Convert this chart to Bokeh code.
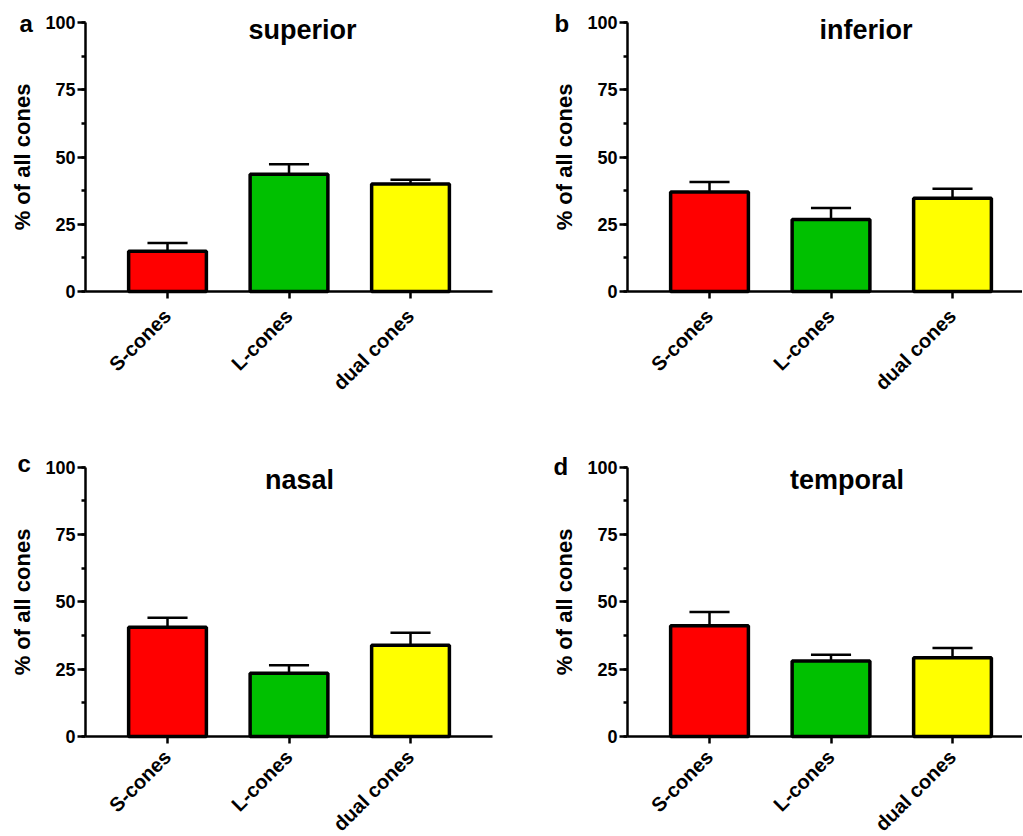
import math
from bokeh.plotting import figure
from bokeh.models import Range1d, FixedTicker, SingleIntervalTicker, Label
from bokeh.layouts import column, row
from bokeh.embed import file_html
from bokeh.resources import INLINE

categories = ["S-cones", "L-cones", "dual cones"]
colors = ["#ff0000", "#00c000", "#ffff00"]

panel_letters = ["a", "b", "c", "d"]
panel_titles = ["superior", "inferior", "nasal", "temporal"]

superior_mean = [15.0, 43.6, 40.0]
superior_sem = [3.0, 3.7, 1.5]
inferior_mean = [37.0, 26.8, 34.7]
inferior_sem = [3.7, 4.2, 3.5]
nasal_mean = [40.6, 23.5, 33.9]
nasal_sem = [3.5, 3.0, 4.6]
temporal_mean = [41.1, 28.0, 29.2]
temporal_sem = [5.1, 2.4, 3.7]

FONT = "Liberation Sans"
X_LEFT = -0.175      # data x where the y axis sits
PX_PER_CAT = 121.5   # pixels per category step


def make_panel(letter, title, means, sems, width, height, axis_px_x, y100_px, y0_px,
               x_axis_end, label_standoff, title_x, title_y, letter_x, letter_y):
    xs = [i + 0.5 for i in range(len(categories))]
    x_start = X_LEFT - axis_px_x / PX_PER_CAT
    x_end = x_start + width / PX_PER_CAT
    py = (y0_px - y100_px) / 100.0
    y_top = 100 + y100_px / py
    y_bot = -(height - y0_px) / py
    p = figure(width=width, height=height, output_backend="svg", toolbar_location=None,
               x_range=Range1d(x_start, x_end), y_range=Range1d(y_bot, y_top),
               min_border_left=0, min_border_right=0, min_border_top=0, min_border_bottom=0)
    p.xgrid.visible = False
    p.ygrid.visible = False
    p.outline_line_color = None
    p.background_fill_color = "white"
    p.border_fill_color = "white"

    tops = [m + s for m, s in zip(means, sems)]
    p.segment(x0=xs, y0=means, x1=xs, y1=tops, line_color="black", line_width=2.5)
    p.segment(x0=[x - 0.165 for x in xs], y0=tops, x1=[x + 0.165 for x in xs], y1=tops,
              line_color="black", line_width=2.5)
    p.vbar(x=xs, top=means, bottom=0, width=0.64, fill_color=colors,
           line_color="black", line_width=3.5)

    xa = p.xaxis[0]
    xa.fixed_location = 0
    xa.bounds = (X_LEFT, min(x_axis_end, x_end))
    xa.ticker = FixedTicker(ticks=xs)
    xa.major_label_overrides = {x: c for x, c in zip(xs, categories)}
    xa.major_label_orientation = math.pi / 4
    xa.major_label_standoff = label_standoff
    xa.major_tick_out = 7
    xa.major_tick_in = 0
    xa.minor_tick_line_color = None
    xa.major_label_text_font_size = "20px"

    ya = p.yaxis[0]
    ya.fixed_location = X_LEFT
    ya.bounds = (0, 100)
    ya.ticker = SingleIntervalTicker(interval=25, num_minor_ticks=2)
    ya.major_tick_out = 8
    ya.major_tick_in = 0
    ya.minor_tick_out = 4
    ya.minor_tick_in = 0
    ya.major_label_standoff = 2
    ya.major_label_text_font_size = "18px"
    ya.axis_label = "% of all cones"
    ya.axis_label_text_font = FONT
    ya.axis_label_text_font_style = "bold"
    ya.axis_label_text_font_size = "22px"
    ya.axis_label_text_color = "black"
    ya.axis_label_standoff = 7

    for ax in (xa, ya):
        ax.axis_line_width = 2.5
        ax.axis_line_color = "black"
        ax.major_tick_line_width = 2.5
        ax.major_tick_line_color = "black"
        ax.minor_tick_line_width = 2.5
        ax.major_label_text_font = FONT
        ax.major_label_text_font_style = "bold"
        ax.major_label_text_color = "black"

    p.add_layout(Label(x=title_x, y=title_y, text=title, text_font=FONT,
                       text_font_style="bold", text_font_size="27px",
                       text_align="center", text_baseline="alphabetic", text_color="black"))
    p.add_layout(Label(x=letter_x, y=letter_y, text=letter, text_font=FONT,
                       text_font_style="bold", text_font_size="24px",
                       text_align="left", text_baseline="alphabetic", text_color="black"))
    return p


pa = make_panel(panel_letters[0], panel_titles[0], superior_mean, superior_sem,
                550, 450, 85, 22, 291, 3.175, 14, 1.611, 97.2, -0.718, 99.8)
pb = make_panel(panel_letters[1], panel_titles[1], inferior_mean, inferior_sem,
                472, 450, 77, 22, 291, 99, 14, 1.788, 97.2, -0.776, 99.6)
pc = make_panel(panel_letters[2], panel_titles[2], nasal_mean, nasal_sem,
                550, 385, 85, 16.7, 286, 3.175, 10, 1.586, 95.2, -0.735, 101.3)
pd = make_panel(panel_letters[3], panel_titles[3], temporal_mean, temporal_sem,
                472, 385, 77, 16.7, 286, 99, 10, 1.632, 95.2, -0.784, 100.2)

layout = column(row(pa, pb), row(pc, pd))
open("out.html", "w").write(file_html(layout, INLINE))
